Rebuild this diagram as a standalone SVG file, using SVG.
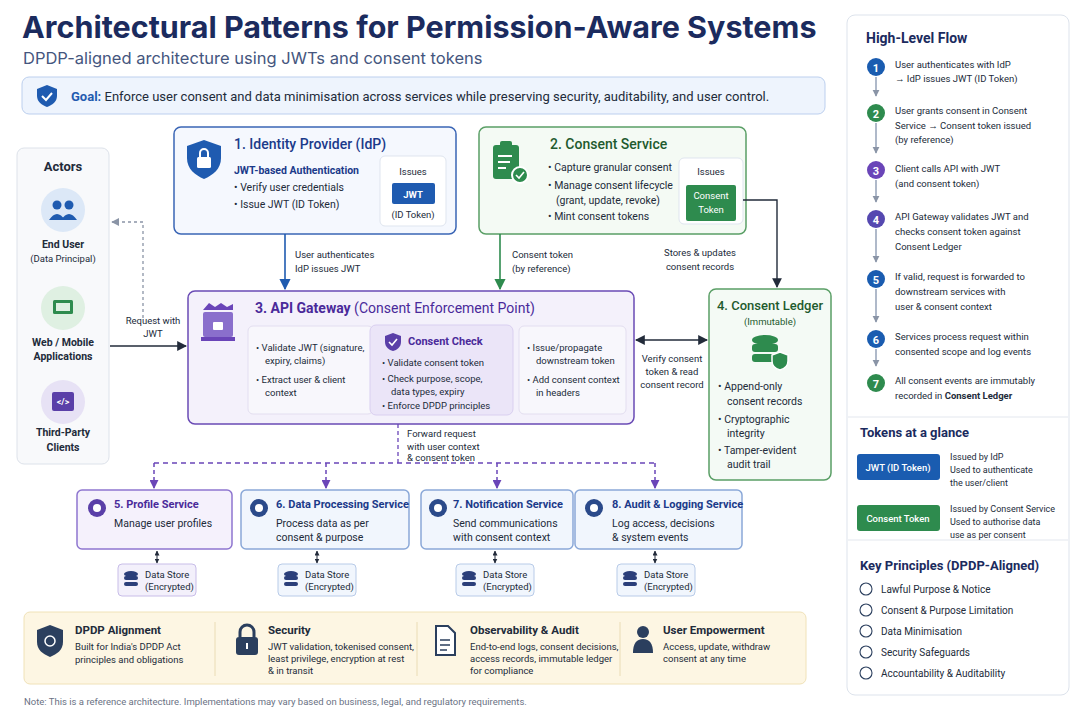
<svg xmlns="http://www.w3.org/2000/svg" width="1080" height="720" viewBox="0 0 1080 720">
<defs>
<style>
text{font-family:Roboto,"Liberation Sans",Arial,sans-serif;fill:#222b3a}
.t{font-size:10.5px}
.s{font-size:9.5px}
.b{font-weight:700}
.w{fill:#fff}
.c{text-anchor:middle}
.box{stroke-width:1.5}
</style>
<marker id="ab" viewBox="0 0 10 10" refX="9" refY="5" markerWidth="7" markerHeight="7" orient="auto-start-reverse"><path d="M0,0L10,5L0,10z" fill="#1f5bb0"/></marker>
<marker id="ag" viewBox="0 0 10 10" refX="9" refY="5" markerWidth="7" markerHeight="7" orient="auto-start-reverse"><path d="M0,0L10,5L0,10z" fill="#2e8b4e"/></marker>
<marker id="ak" viewBox="0 0 10 10" refX="9" refY="5" markerWidth="7" markerHeight="7" orient="auto-start-reverse"><path d="M0,0L10,5L0,10z" fill="#222b3a"/></marker>
<marker id="ap" viewBox="0 0 10 10" refX="9" refY="5" markerWidth="6" markerHeight="6" orient="auto-start-reverse"><path d="M0,0L10,5L0,10z" fill="#6a45b8"/></marker>
<marker id="ay" viewBox="0 0 10 10" refX="9" refY="5" markerWidth="6" markerHeight="6" orient="auto-start-reverse"><path d="M0,0L10,5L0,10z" fill="#8a94a6"/></marker>
<marker id="as" viewBox="0 0 10 10" refX="9" refY="5" markerWidth="5" markerHeight="5" orient="auto-start-reverse"><path d="M0,0L10,5L0,10z" fill="#222b3a"/></marker>
<g id="db"><ellipse cx="0" cy="-6" rx="7" ry="3" fill="#2b3f7a"/><rect x="-7" y="-4" width="14" height="4" rx="2" fill="#2b3f7a"/><rect x="-7" y="2" width="14" height="4" rx="2" fill="#2b3f7a"/></g>
</defs>
<rect width="1080" height="720" fill="#ffffff"/>

<g id="header">
<text x="22" y="38" style="font-family:Inter,'Liberation Sans',sans-serif;font-size:30.5px;font-weight:700;fill:#1b2b5e">Architectural Patterns for Permission-Aware Systems</text>
<text x="23" y="64" style="font-family:Inter,'Liberation Sans',sans-serif;font-size:16.5px;fill:#45567e">DPDP-aligned architecture using JWTs and consent tokens</text>
<rect x="22" y="77" width="803" height="37" rx="7" fill="#eef4fd" stroke="#bccfee"/>
<path d="M47,85 l10,4 v7 c0,6 -5,9 -10,11 c-5,-2 -10,-5 -10,-11 v-7z" fill="#1f5bb0"/>
<path d="M42,96 l4,4 l6,-7" stroke="#fff" stroke-width="2" fill="none"/>
<text x="71" y="101" style="font-size:13px"><tspan style="font-weight:700;fill:#1f5bb0">Goal:</tspan>  Enforce user consent and data minimisation across services while preserving security, auditability, and user control.</text>
</g>

<g id="actors">
<rect x="17" y="148" width="92" height="316" rx="7" fill="#f8f9fb" stroke="#dde2ea"/>
<text x="63" y="171" class="c b" style="font-size:13px">Actors</text>
<circle cx="63" cy="210" r="22" fill="#dce8f7"/>
<circle cx="57" cy="205" r="4.5" fill="#1f5bb0"/><circle cx="69" cy="205" r="4.5" fill="#1f5bb0"/>
<path d="M49,220 q8,-12 16,0z M61,220 q8,-12 16,0z" fill="#1f5bb0"/>
<text x="63" y="248" class="c b t">End User</text>
<text x="63" y="262" class="c s">(Data Principal)</text>
<circle cx="63" cy="308" r="22" fill="#dff0e2"/>
<rect x="53" y="300" width="20" height="14" rx="1.5" fill="#2e8b4e"/><rect x="56" y="303" width="14" height="8" fill="#dff0e2"/>
<text x="63" y="346" class="c b t">Web / Mobile</text>
<text x="63" y="360" class="c b t">Applications</text>
<circle cx="63" cy="402" r="22" fill="#e7e2f5"/>
<rect x="52" y="392" width="22" height="19" rx="2" fill="#5a3fa8"/>
<text x="63" y="405" class="c b w" style="font-size:9px">&lt;/&gt;</text>
<text x="63" y="436" class="c b t">Third-Party</text>
<text x="63" y="451" class="c b t">Clients</text>
</g>

<g id="idp">
<rect x="174" y="127" width="282" height="107" rx="7" fill="#f5f8fe" stroke="#3a65b5" class="box"/>
<path d="M204,140 l17,6 v12 c0,11 -8,17 -17,21 c-9,-4 -17,-10 -17,-21 v-12z" fill="#1f5bb0"/>
<rect x="197" y="157" width="14" height="11" rx="1.5" fill="#fff"/>
<path d="M200,157 v-4 a4,4 0 0 1 8,0 v4" stroke="#fff" stroke-width="2" fill="none"/>
<text x="234" y="149" style="font-size:14px;fill:#1b3a8a;font-weight:500">1. Identity Provider (IdP)</text>
<text x="234" y="174" class="t b" style="fill:#1b3a8a">JWT-based Authentication</text>
<text x="234" y="191" class="t">•  Verify user credentials</text>
<text x="234" y="208" class="t">•  Issue JWT (ID Token)</text>
<rect x="380" y="156" width="66" height="70" rx="5" fill="#fff" stroke="#dfe5ef"/>
<text x="413" y="175" class="c s">Issues</text>
<rect x="392" y="183" width="43" height="21" rx="2" fill="#1f5bb0"/>
<text x="413" y="198" class="c b w s">JWT</text>
<text x="413" y="218" class="c s">(ID Token)</text>
</g>

<g id="consent-service">
<rect x="479" y="127" width="267" height="107" rx="7" fill="#f4faf4" stroke="#5a9f66" class="box"/>
<rect x="493" y="145" width="26" height="34" rx="3" fill="#2e8b4e"/>
<rect x="500" y="141" width="12" height="6" rx="2" fill="#2e8b4e"/>
<path d="M498,156 h14 M498,162 h12 M498,168 h8" stroke="#fff" stroke-width="2"/>
<circle cx="520" cy="175" r="8" fill="#2e8b4e" stroke="#fff" stroke-width="2"/>
<path d="M516,175 l3,3 l5,-6" stroke="#fff" stroke-width="1.6" fill="none"/>
<text x="550" y="149" style="font-size:14px;fill:#1e5a2e;font-weight:500">2. Consent Service</text>
<text x="548" y="171" class="t">•  Capture granular consent</text>
<text x="548" y="189" class="t">•  Manage consent lifecycle</text>
<text x="556" y="204" class="t">(grant, update, revoke)</text>
<text x="548" y="220" class="t">•  Mint consent tokens</text>
<rect x="679" y="158" width="64" height="66" rx="5" fill="#fff" stroke="#dfe5ef"/>
<text x="711" y="175" class="c s">Issues</text>
<rect x="686" y="185" width="50" height="36" rx="2" fill="#2e8b4e"/>
<text x="711" y="199" class="c w s">Consent</text>
<text x="711" y="213" class="c w s">Token</text>
</g>

<g id="api-gateway">
<rect x="188" y="291" width="446" height="133" rx="7" fill="#f4f1fb" stroke="#6a4bb5" class="box"/>
<path d="M203,310 l6,-7 l6,4 l6,-4 l6,4 l6,-3 v6z" fill="#6a45b8"/>
<rect x="203" y="312" width="30" height="25" rx="2" fill="#8a6fcc"/>
<rect x="201" y="337" width="34" height="4" fill="#6a45b8"/>
<rect x="213" y="322" width="10" height="8" rx="1" fill="#fff"/>
<text x="255" y="313" style="font-size:14px;fill:#4a2a9a"><tspan font-weight="700">3. API Gateway</tspan> (Consent Enforcement Point)</text>
<rect x="248" y="326" width="125" height="88" rx="5" fill="#f8f7fc" stroke="#e3def0"/>
<rect x="519" y="326" width="107" height="88" rx="5" fill="#f8f7fc" stroke="#e3def0"/>
<rect x="370" y="325" width="143" height="90" rx="6" fill="#ebe5f8" stroke="#d9cff0"/>
<text x="256" y="351" class="s">•  Validate JWT (signature,</text>
<text x="265" y="364" class="s">expiry, claims)</text>
<text x="256" y="383" class="s">•  Extract user &amp; client</text>
<text x="265" y="396" class="s">context</text>
<path d="M393,333 l8,3 v6 c0,5 -4,8 -8,9 c-4,-1 -8,-4 -8,-9 v-6z" fill="#5a3fa8"/>
<path d="M389,342 l3,3 l5,-6" stroke="#fff" stroke-width="1.6" fill="none"/>
<text x="408" y="345" class="b" style="font-size:11px;fill:#4a2a9a">Consent Check</text>
<text x="382" y="366" class="s">•  Validate consent token</text>
<text x="382" y="382" class="s">•  Check purpose, scope,</text>
<text x="391" y="395" class="s">data types, expiry</text>
<text x="382" y="409" class="s">•  Enforce DPDP principles</text>
<text x="527" y="351" class="s">•  Issue/propagate</text>
<text x="536" y="364" class="s">downstream token</text>
<text x="527" y="383" class="s">•  Add consent context</text>
<text x="536" y="396" class="s">in headers</text>
</g>

<g id="consent-ledger">
<rect x="709" y="289" width="122" height="191" rx="7" fill="#f4faf5" stroke="#5a9f66" class="box"/>
<text x="770" y="310" class="c" style="font-size:13px;fill:#1e5a2e;font-weight:500">4. Consent Ledger</text>
<text x="770" y="325" class="c s" style="fill:#1e5a2e">(Immutable)</text>
<ellipse cx="765" cy="340" rx="13" ry="5" fill="#2e8b4e"/>
<rect x="752" y="344" width="26" height="8" rx="3" fill="#2e8b4e"/>
<rect x="752" y="354" width="26" height="8" rx="3" fill="#2e8b4e"/>
<path d="M780,352 l8,3 v6 c0,5 -4,8 -8,9 c-4,-1 -8,-4 -8,-9 v-6z" fill="#2e8b4e" stroke="#fff" stroke-width="1.5"/>
<text x="718" y="390" class="t">•  Append-only</text>
<text x="727" y="405" class="t">consent records</text>
<text x="718" y="423" class="t">•  Cryptographic</text>
<text x="727" y="437" class="t">integrity</text>
<text x="718" y="454" class="t">•  Tamper-evident</text>
<text x="727" y="468" class="t">audit trail</text>
</g>

<g id="services">
<g id="profile-service">
<rect x="77" y="490" width="155" height="59" rx="5" fill="#f5f1fc" stroke="#8e76cf" class="box"/>
<circle cx="97" cy="508" r="9" fill="#5a3fa8"/><circle cx="97" cy="508" r="4" fill="#fff"/>
<text x="114" y="508" class="b" style="font-size:11px;fill:#4a2a9a">5. Profile Service</text>
<text x="114" y="527" class="t">Manage user profiles</text>
</g>
<g id="data-processing-service">
<rect x="241" y="490" width="168" height="59" rx="5" fill="#f1f6fd" stroke="#8aa8d8" class="box"/>
<circle cx="259" cy="508" r="9" fill="#2b4a8a"/><circle cx="259" cy="508" r="4" fill="#fff"/>
<text x="276" y="508" class="b" style="font-size:11px;fill:#1b3a8a">6. Data Processing Service</text>
<text x="276" y="527" class="t">Process data as per</text>
<text x="276" y="541" class="t">consent &amp; purpose</text>
</g>
<g id="notification-service">
<rect x="421" y="490" width="152" height="59" rx="5" fill="#f1f6fd" stroke="#8aa8d8" class="box"/>
<circle cx="438" cy="508" r="9" fill="#2b4a8a"/><circle cx="438" cy="508" r="4" fill="#fff"/>
<text x="453" y="508" class="b" style="font-size:11px;fill:#1b3a8a">7. Notification Service</text>
<text x="453" y="527" class="t">Send communications</text>
<text x="453" y="541" class="t">with consent context</text>
</g>
<g id="audit-service">
<rect x="575" y="490" width="167" height="59" rx="5" fill="#f1f6fd" stroke="#8aa8d8" class="box"/>
<circle cx="594" cy="508" r="9" fill="#2b4a8a"/><circle cx="594" cy="508" r="4" fill="#fff"/>
<text x="612" y="508" class="b" style="font-size:11px;fill:#1b3a8a">8. Audit &amp; Logging Service</text>
<text x="612" y="527" class="t">Log access, decisions</text>
<text x="612" y="541" class="t">&amp; system events</text>
</g>
</g>

<g id="data-stores">
<g><rect x="118" y="564" width="78" height="32" rx="4" fill="#f3f0fb" stroke="#c8bde8"/><use href="#db" x="131" y="580"/><text x="145" y="578" class="s">Data Store</text><text x="145" y="590" class="s">(Encrypted)</text></g>
<g><rect x="278" y="564" width="78" height="32" rx="4" fill="#f1f6fd" stroke="#b8cbe8"/><use href="#db" x="291" y="580"/><text x="305" y="578" class="s">Data Store</text><text x="305" y="590" class="s">(Encrypted)</text></g>
<g><rect x="456" y="564" width="78" height="32" rx="4" fill="#f1f6fd" stroke="#b8cbe8"/><use href="#db" x="469" y="580"/><text x="483" y="578" class="s">Data Store</text><text x="483" y="590" class="s">(Encrypted)</text></g>
<g><rect x="617" y="564" width="78" height="32" rx="4" fill="#f1f6fd" stroke="#b8cbe8"/><use href="#db" x="630" y="580"/><text x="644" y="578" class="s">Data Store</text><text x="644" y="590" class="s">(Encrypted)</text></g>
</g>

<g id="connectors" fill="none">
<path d="M143,318 V222 H112" stroke="#8a94a6" stroke-dasharray="3,3" stroke-width="1.3" marker-end="url(#ay)"/>
<path d="M110,346 H186" stroke="#222b3a" stroke-width="1.4" marker-end="url(#ak)"/>
<path d="M285,234 V289" stroke="#1f5bb0" stroke-width="1.6" marker-end="url(#ab)"/>
<path d="M500,234 V289" stroke="#2e8b4e" stroke-width="1.6" marker-end="url(#ag)"/>
<path d="M743,200 H777 V287" stroke="#222b3a" stroke-width="1.4" marker-end="url(#ak)"/>
<path d="M636,340 H707" stroke="#222b3a" stroke-width="1.4" marker-start="url(#ak)" marker-end="url(#ak)"/>
<path d="M398,424 V463" stroke="#6a45b8" stroke-width="1.3" stroke-dasharray="4,3"/>
<path d="M154,463 H655" stroke="#6a45b8" stroke-width="1.5" stroke-dasharray="5,4"/>
<path d="M154,463 V488" stroke="#6a45b8" stroke-width="1.5" stroke-dasharray="4,3" marker-end="url(#ap)"/>
<path d="M326,463 V488" stroke="#6a45b8" stroke-width="1.5" stroke-dasharray="4,3" marker-end="url(#ap)"/>
<path d="M497,463 V488" stroke="#6a45b8" stroke-width="1.5" stroke-dasharray="4,3" marker-end="url(#ap)"/>
<path d="M655,463 V488" stroke="#6a45b8" stroke-width="1.5" stroke-dasharray="4,3" marker-end="url(#ap)"/>
<path d="M157,551 V563" stroke="#222b3a" stroke-width="1" marker-start="url(#as)" marker-end="url(#as)"/>
<path d="M317,551 V563" stroke="#222b3a" stroke-width="1" marker-start="url(#as)" marker-end="url(#as)"/>
<path d="M495,551 V563" stroke="#222b3a" stroke-width="1" marker-start="url(#as)" marker-end="url(#as)"/>
<path d="M655,551 V563" stroke="#222b3a" stroke-width="1" marker-start="url(#as)" marker-end="url(#as)"/>
</g>

<g id="connector-labels">
<text x="153" y="324" class="c s">Request with</text>
<text x="153" y="337" class="c s">JWT</text>
<text x="295" y="258" class="s">User authenticates</text>
<text x="295" y="272" class="s">IdP issues JWT</text>
<text x="512" y="258" class="s">Consent token</text>
<text x="512" y="272" class="s">(by reference)</text>
<text x="700" y="256" class="c s">Stores &amp; updates</text>
<text x="700" y="270" class="c s">consent records</text>
<text x="672" y="362" class="c s">Verify consent</text>
<text x="672" y="375" class="c s">token &amp; read</text>
<text x="672" y="388" class="c s">consent record</text>
<text x="407" y="437" class="s">Forward request</text>
<text x="407" y="450" class="s">with user context</text>
<text x="407" y="461" class="s">&amp; consent token</text>
</g>

<g id="principles-bar">
<rect x="24" y="612" width="782" height="72" rx="6" fill="#fdf6e3" stroke="#f0e2b8"/>
<path d="M215,622 V676 M417,622 V676 M620,622 V676" stroke="#eadcb5"/>
<path d="M50,625 l13,5 v12 c0,8 -6,12 -13,15 c-7,-3 -13,-7 -13,-15 v-12z" fill="#2b3f5e"/>
<circle cx="50" cy="641" r="5" fill="none" stroke="#fff" stroke-width="1.5"/>
<text x="75" y="634" class="b" style="font-size:11.5px">DPDP Alignment</text>
<text x="75" y="650" class="s">Built for India's DPDP Act</text>
<text x="75" y="663" class="s">principles and obligations</text>
<rect x="236" y="637" width="22" height="18" rx="3" fill="#2b3f5e"/>
<path d="M240,637 v-5 a7,7 0 0 1 14,0 v5" stroke="#2b3f5e" stroke-width="3" fill="none"/>
<rect x="246" y="643" width="2" height="6" fill="#fff"/>
<text x="268" y="634" class="b" style="font-size:11.5px">Security</text>
<text x="268" y="650" class="s">JWT validation, tokenised consent,</text>
<text x="268" y="662" class="s">least privilege, encryption at rest</text>
<text x="268" y="674" class="s">&amp; in transit</text>
<path d="M436,626 h12 l7,7 v22 h-19z" fill="#fff" stroke="#2b3f5e" stroke-width="2"/>
<path d="M440,640 h10 M440,645 h10 M440,650 h7" stroke="#2b3f5e" stroke-width="1.5"/>
<text x="470" y="634" class="b" style="font-size:11.5px">Observability &amp; Audit</text>
<text x="470" y="650" class="s">End-to-end logs, consent decisions,</text>
<text x="470" y="662" class="s">access records, immutable ledger</text>
<text x="470" y="674" class="s">for compliance</text>
<circle cx="643" cy="632" r="6" fill="#2b3f5e"/>
<path d="M633,653 q0,-14 10,-14 q10,0 10,14z" fill="#2b3f5e"/>
<text x="663" y="634" class="b" style="font-size:11.5px">User Empowerment</text>
<text x="663" y="650" class="s">Access, update, withdraw</text>
<text x="663" y="662" class="s">consent at any time</text>
</g>
<text x="24" y="705" style="font-size:9.5px;fill:#6a7284">Note: This is a reference architecture. Implementations may vary based on business, legal, and regulatory requirements.</text>

<g id="side-panel">
<rect x="847" y="15" width="222" height="680" rx="8" fill="#fff" stroke="#dde3ec"/>
<path d="M848,417 H1068 M848,540 H1068" stroke="#e3e7ee"/>
<text x="866" y="43" style="font-size:14px;font-weight:700;fill:#1b2b5e">High-Level Flow</text>
<g stroke="#7a8aa6" stroke-width="1.2" fill="none">
<path d="M876,77 V96" marker-end="url(#ay)"/><path d="M876,123 V153" marker-end="url(#ay)"/><path d="M876,180 V202" marker-end="url(#ay)"/><path d="M876,229 V262" marker-end="url(#ay)"/><path d="M876,289 V322" marker-end="url(#ay)"/><path d="M876,349 V366" marker-end="url(#ay)"/>
</g>
<circle cx="876" cy="67" r="9" fill="#1a5cb0"/><text x="876" y="71.5" class="c b w" style="font-size:11px">1</text>
<circle cx="876" cy="113" r="9" fill="#2e8b4e"/><text x="876" y="117.5" class="c b w" style="font-size:11px">2</text>
<circle cx="876" cy="170" r="9" fill="#6a45b8"/><text x="876" y="174.5" class="c b w" style="font-size:11px">3</text>
<circle cx="876" cy="219" r="9" fill="#5548b0"/><text x="876" y="223.5" class="c b w" style="font-size:11px">4</text>
<circle cx="876" cy="279" r="9" fill="#1a5cb0"/><text x="876" y="283.5" class="c b w" style="font-size:11px">5</text>
<circle cx="876" cy="339" r="9" fill="#1a5cb0"/><text x="876" y="343.5" class="c b w" style="font-size:11px">6</text>
<circle cx="876" cy="383" r="9" fill="#2e8b4e"/><text x="876" y="387.5" class="c b w" style="font-size:11px">7</text>
<text x="895" y="68" class="s">User authenticates with IdP</text>
<text x="895" y="82" class="s">→ IdP issues JWT (ID Token)</text>
<text x="895" y="114" class="s">User grants consent in Consent</text>
<text x="895" y="129" class="s">Service → Consent token issued</text>
<text x="895" y="143" class="s">(by reference)</text>
<text x="895" y="172" class="s">Client calls API with JWT</text>
<text x="895" y="187" class="s">(and consent token)</text>
<text x="895" y="220" class="s">API Gateway validates JWT and</text>
<text x="895" y="235" class="s">checks consent token against</text>
<text x="895" y="250" class="s">Consent Ledger</text>
<text x="895" y="280" class="s">If valid, request is forwarded to</text>
<text x="895" y="295" class="s">downstream services with</text>
<text x="895" y="310" class="s">user &amp; consent context</text>
<text x="895" y="340" class="s">Services process request within</text>
<text x="895" y="355" class="s">consented scope and log events</text>
<text x="895" y="384" class="s">All consent events are immutably</text>
<text x="895" y="399" class="s">recorded in <tspan font-weight="700">Consent Ledger</tspan></text>
<text x="860" y="437" style="font-size:13px;font-weight:700;fill:#1b2b5e">Tokens at a glance</text>
<rect x="857" y="454" width="83" height="26" rx="3" fill="#1a5cb0"/>
<text x="898" y="471" class="c w s" style="font-weight:500">JWT (ID Token)</text>
<text x="950" y="460" style="font-size:9px">Issued by IdP</text>
<text x="950" y="473" style="font-size:9px">Used to authenticate</text>
<text x="950" y="486" style="font-size:9px">the user/client</text>
<rect x="857" y="505" width="83" height="26" rx="3" fill="#2e8b4e"/>
<text x="898" y="522" class="c w s" style="font-weight:500">Consent Token</text>
<text x="950" y="512" style="font-size:9px">Issued by Consent Service</text>
<text x="950" y="525" style="font-size:9px">Used to authorise data</text>
<text x="950" y="538" style="font-size:9px">use as per consent</text>
<text x="860" y="570" style="font-size:13px;font-weight:700;fill:#1b2b5e">Key Principles (DPDP-Aligned)</text>
<g fill="none" stroke="#2b3f5e" stroke-width="1.1">
<circle cx="866" cy="589" r="6"/><circle cx="866" cy="610" r="6"/><circle cx="866" cy="631" r="6"/><circle cx="866" cy="652" r="6"/><circle cx="866" cy="673" r="6"/>
</g>
<text x="881" y="593" style="font-size:10px">Lawful Purpose &amp; Notice</text>
<text x="881" y="614" style="font-size:10px">Consent &amp; Purpose Limitation</text>
<text x="881" y="635" style="font-size:10px">Data Minimisation</text>
<text x="881" y="656" style="font-size:10px">Security Safeguards</text>
<text x="881" y="677" style="font-size:10px">Accountability &amp; Auditability</text>
</g>
</svg>
